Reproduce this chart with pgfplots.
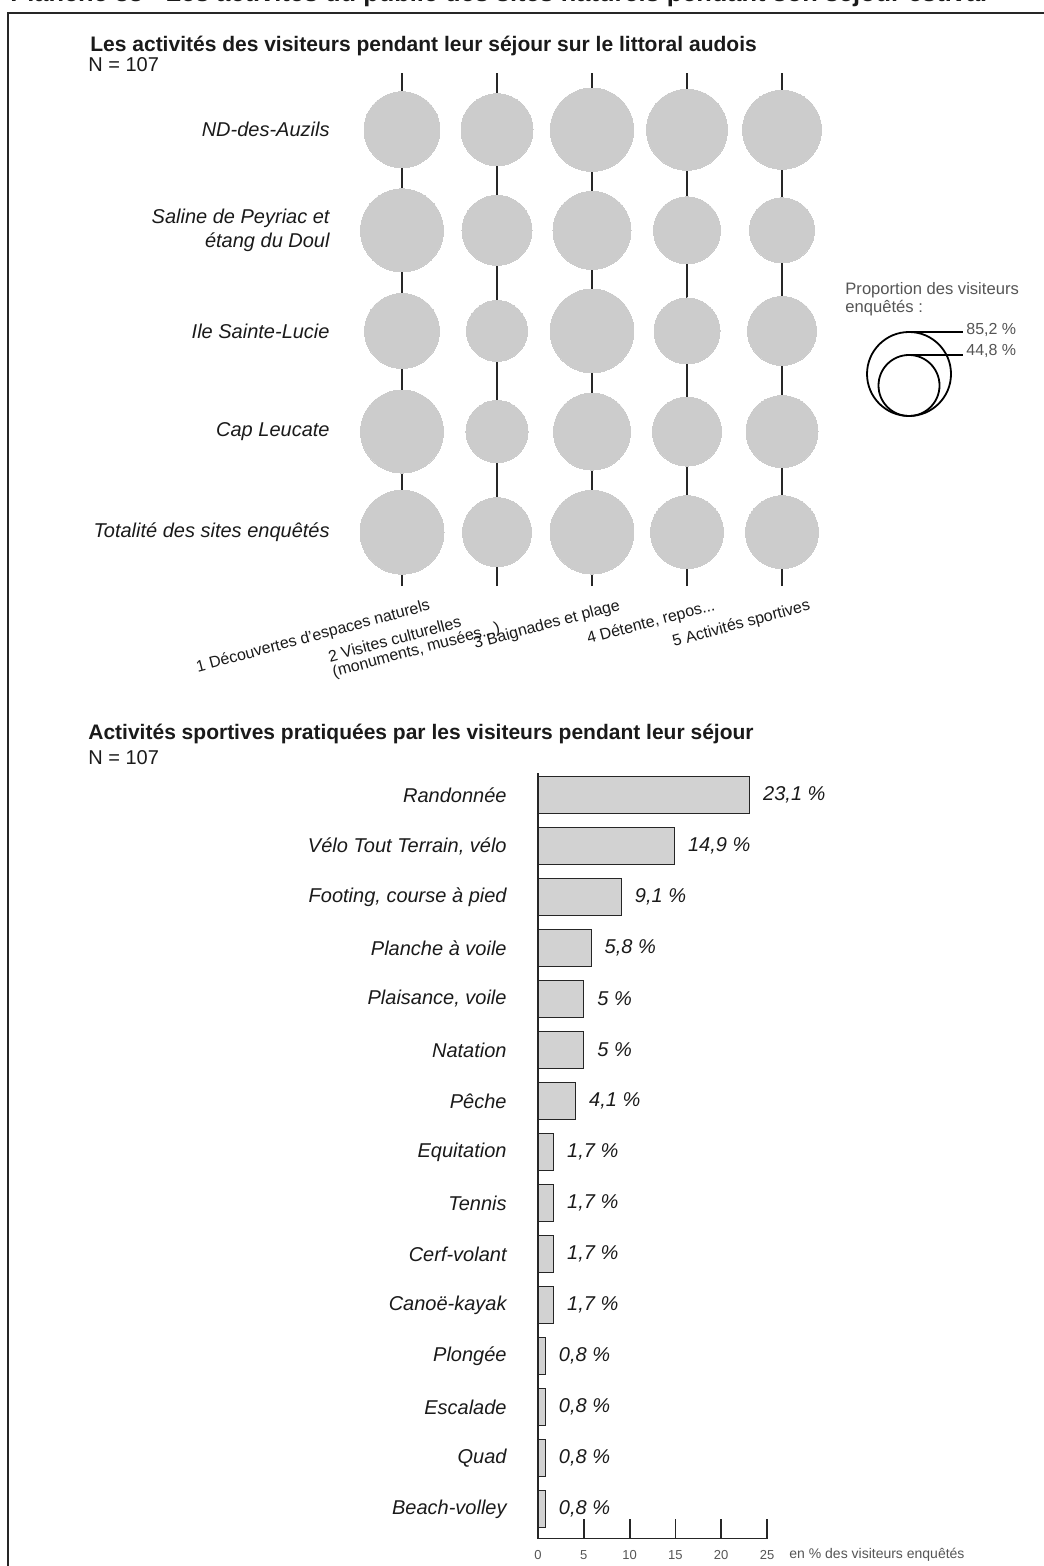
\documentclass[border=0pt]{standalone}
\usepackage{fontspec}
\setmainfont{Liberation Sans}
\usepackage{pgfplots}
\pgfplotsset{compat=1.18}
\definecolor{bub}{HTML}{CCCCCC}
\definecolor{barf}{HTML}{D2D2D2}
\definecolor{txt}{HTML}{1A1A1A}
\definecolor{lgd}{HTML}{555555}

\pgfplotstableread{
x y p
1 5 69.7
2 5 62.6
3 5 84.0
4 5 79.2
5 5 75.4
1 4 83.2
2 4 59.2
3 4 73.5
4 4 54.2
5 4 51.0
1 3 67.9
2 3 44.8
3 3 84.6
4 3 52.6
5 3 57.5
1 2 83.2
2 2 46.5
3 2 71.6
4 2 57.5
5 2 62.6
1 1 85.2
2 1 57.5
3 1 84.8
4 1 64.3
5 1 64.3
}\bubbles

\begin{document}
\begin{tikzpicture}
\useasboundingbox (0,0) rectangle (521.5pt,-783pt);
% frame
\draw[line width=1pt, black!85] (4pt,-800pt) -- (4pt,-6.5pt) -- (540pt,-6.5pt);
% cut-off page title
\node[anchor=base west, inner sep=0pt, text=txt, font=\bfseries\fontsize{12.7}{15}\selectfont] at (5pt,-0.6pt) {Planche 33 - Les activités du public des sites naturels pendant son séjour estival};

% ---------- top chart ----------
\node[anchor=west, inner sep=0pt, text=txt, font=\bfseries\fontsize{10.5}{12}\selectfont] at (45pt,-23pt) {Les activités des visiteurs pendant leur séjour sur le littoral audois};
\node[anchor=west, inner sep=0pt, text=txt, font=\fontsize{10}{12}\selectfont] at (44pt,-32.5pt) {N = 107};

\begin{axis}[
  at={(177.25pt,-293pt)}, anchor=south west,
  width=237.5pt, height=256.5pt, scale only axis,
  xmin=0.5, xmax=5.5, ymin=0.465, ymax=5.564,
  clip=false,
  axis line style={draw=none}, tick style={draw=none}, major tick length=0pt,
  xtick={1,2,3,4,5}, ytick={1,2,3,4,5},
  xmajorgrids, grid style={black!85, line width=0.6pt},
  xticklabels={{1 Découvertes d'espaces naturels},{\begin{tabular}{@{}l@{\hspace{15pt}}}2 Visites culturelles\\[-0.5pt](monuments, musées.{}.{}.)\end{tabular}},{3 Baignades et plage},{4 Détente, repos.{}.{}.},{5 Activités sportives}},
  xticklabel style={font=\fontsize{8}{8}\selectfont, text=txt, align=left, inner sep=0pt, xshift=13pt, yshift=-6pt, rotate=15, anchor=north east},
  yticklabels={{Totalité des sites enquêtés},{Cap Leucate},{Ile Sainte-Lucie},{Saline de Peyriac et\\étang du Doul},{ND-des-Auzils}},
  yticklabel style={font=\itshape\fontsize{10}{12}\selectfont, text=txt, align=right, inner sep=0pt, anchor=east, xshift=-12.25pt},
]
\addplot[scatter, only marks, mark=*, draw=bub, fill=bub,
  mark options={draw=bub, fill=bub, line width=0pt},
  scatter/use mapped color={draw=bub, fill=bub},
  visualization depends on={21*sqrt(\thisrow{p}/85.2) \as \rad},
  scatter/@pre marker code/.append style={/tikz/mark size=\rad, /tikz/draw=bub, /tikz/fill=bub}]
  table[x=x, y=y, meta=p] {\bubbles};
\end{axis}

% legend of circle sizes
\node[anchor=north west, inner sep=0pt, align=left, text=lgd, font=\fontsize{8.3}{9}\selectfont] at (422.5pt,-141pt) {Proportion des visiteurs\\enquêtés :};
\draw[line width=0.9pt] (454.5pt,-187pt) circle (21pt);
\draw[line width=0.9pt] (454.5pt,-192.75pt) circle (15.25pt);
\draw[line width=0.9pt] (454.5pt,-166pt) -- (481.5pt,-166pt);
\draw[line width=0.9pt] (454.5pt,-177.5pt) -- (481.5pt,-177.5pt);
\node[anchor=west, inner sep=0pt, text=lgd, font=\fontsize{8}{9}\selectfont] at (483pt,-165pt) {85,2 \%};
\node[anchor=west, inner sep=0pt, text=lgd, font=\fontsize{8}{9}\selectfont] at (483pt,-175.5pt) {44,8 \%};

% ---------- bottom chart ----------
\node[anchor=west, inner sep=0pt, text=txt, font=\bfseries\fontsize{10.5}{12}\selectfont] at (44pt,-367pt) {Activités sportives pratiquées par les visiteurs pendant leur séjour};
\node[anchor=west, inner sep=0pt, text=txt, font=\fontsize{10}{12}\selectfont] at (44pt,-379pt) {N = 107};

\begin{axis}[
  at={(269pt,-769.25pt)}, anchor=south west,
  width=114.5pt, height=382.75pt, scale only axis,
  xmin=0, xmax=25, ymin=0.422, ymax=15.431,
  clip=false,
  axis x line=bottom, axis y line=left,
  axis line style={-, line width=0.7pt, black!85},
  xtick={0,5,10,15,20,25}, ytick={1,...,15},
  tick align=inside, major tick length=10pt,
  xtick style={line width=0.9pt, black!85},
  ytick style={draw=none},
  xticklabel style={font=\fontsize{6.5}{7}\selectfont, text=lgd, inner sep=0pt, yshift=-6pt},
  /pgf/number format/assume math mode=true,
  yticklabels={Beach-volley,Quad,Escalade,Plongée,Canoë-kayak,Cerf-volant,Tennis,Equitation,Pêche,Natation,{Plaisance, voile},Planche à voile,{Footing, course à pied},{Vélo Tout Terrain, vélo},Randonnée},
  yticklabel style={font=\itshape\fontsize{10}{12}\selectfont, text=txt, inner sep=0pt, anchor=east, xshift=-5.5pt},
  xbar, bar width=18.5pt, bar shift=0pt,
  nodes near coords={\pgfmathprintnumber[use comma]{\pgfplotspointmeta}~\%},
  nodes near coords style={font=\itshape\fontsize{10}{12}\selectfont, text=txt, inner sep=0pt, anchor=west, xshift=6.5pt},
]
\addplot[fill=barf, draw=black!85, line width=0.6pt] coordinates {
  (0.8,1) (0.8,2) (0.8,3) (0.8,4) (1.7,5) (1.7,6) (1.7,7) (1.7,8)
  (4.1,9) (5,10) (5,11) (5.8,12) (9.1,13) (14.9,14) (23.1,15)};
\end{axis}
\node[anchor=west, inner sep=0pt, text=lgd, font=\fontsize{7}{8}\selectfont] at (394.5pt,-777.5pt) {en \% des visiteurs enquêtés};
\end{tikzpicture}
\end{document}
